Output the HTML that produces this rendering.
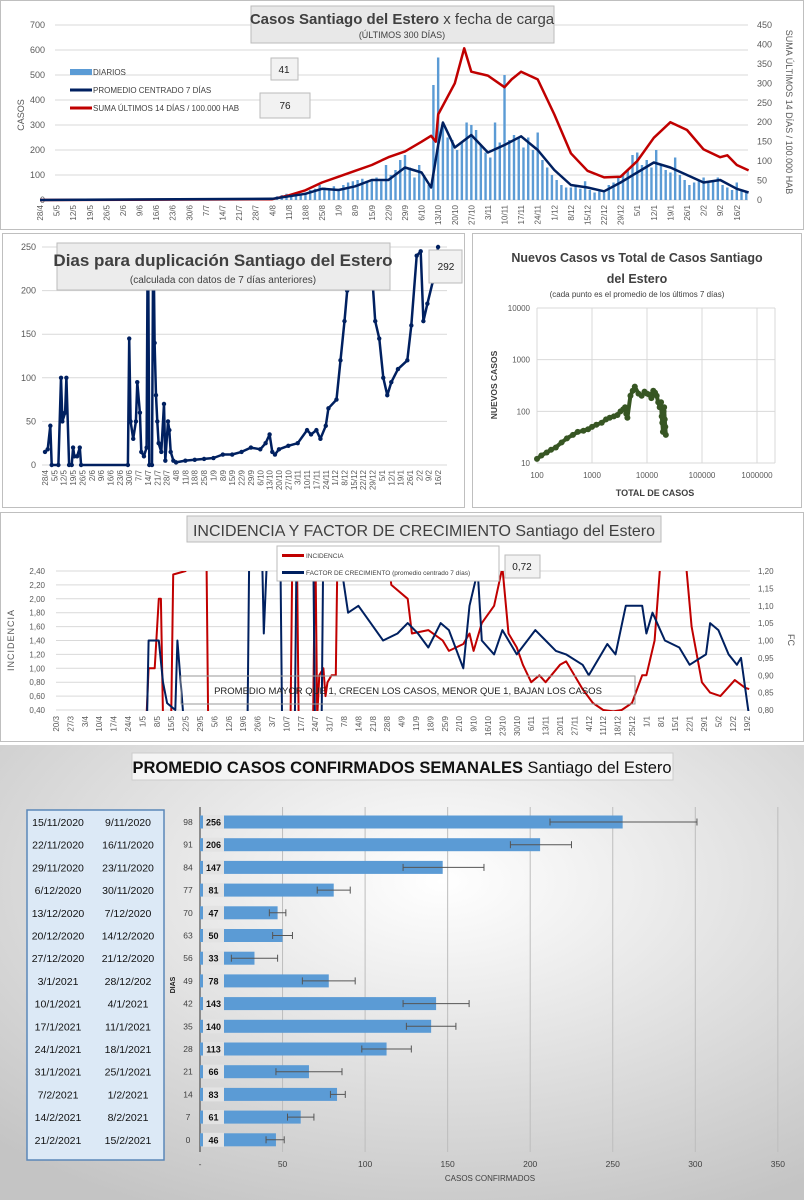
<!DOCTYPE html>
<html><head><meta charset="utf-8">
<style>
html,body{margin:0;padding:0;background:#fff;}
svg{display:block;font-family:"Liberation Sans",sans-serif;}
</style></head>
<body>
<svg id="root" width="804" height="1200" viewBox="0 0 804 1200" xmlns="http://www.w3.org/2000/svg">
<defs>
<radialGradient id="bg5" cx="0.55" cy="0.3" r="0.8"><stop offset="0" stop-color="#ffffff"/><stop offset="1" stop-color="#c4c4c4"/></radialGradient>
<clipPath id="c2"><rect x="40" y="244" width="425" height="230"/></clipPath>
<clipPath id="c4"><rect x="56" y="571" width="694" height="140"/></clipPath>
</defs>
<rect x="0.5" y="0.5" width="803" height="229" fill="#fff" stroke="#bfbfbf"/>
<rect x="2.5" y="233.5" width="462" height="274" fill="#fff" stroke="#bfbfbf"/>
<rect x="472.5" y="233.5" width="329" height="274" fill="#fff" stroke="#bfbfbf"/>
<rect x="0.5" y="512.5" width="803" height="229" fill="#fff" stroke="#bfbfbf"/>
<rect x="0" y="745" width="804" height="455" fill="url(#bg5)"/>
<g id="g1"></g><g id="g2"></g><g id="g3"></g><g id="g4"></g><g id="g5"></g>
</svg>
<script>
const NS='http://www.w3.org/2000/svg';
// ---------- Panel 1 data ----------
const p1Ticks=['28/4','5/5','12/5','19/5','26/5','2/6','9/6','16/6','23/6','30/6','7/7','14/7','21/7','28/7','4/8','11/8','18/8','25/8','1/9','8/9','15/9','22/9','29/9','6/10','13/10','20/10','27/10','3/11','10/11','17/11','24/11','1/12','8/12','15/12','22/12','29/12','5/1','12/1','19/1','26/1','2/2','9/2','16/2'];
const dailyStartDay=98;
const dailyCases=[10,15,20,25,20,30,25, 30,40,45,60,50,40,55, 45,60,70,75,80,85,70, 80,90,75,140,100,120,160, 180,130,90,140,100,60,460, 570,300,250,240,200,230,310, 300,280,220,190,170,310,230, 500,240,260,250,210,250,200, 270,160,130,100,80,60,50, 50,60,45,75,40,30,35, 30,60,70,90,100,120,180, 190,140,160,130,200,140,120, 110,170,100,80,60,70,80, 90,70,80,90,60,50,40, 70,40,30];
const avgDays=[0,98,105,112,119,126,133,140,147,154,161,165,168,170,175,182,189,196,203,210,217,224,231,238,245,252,259,266,273,280,287,294,299];
const avgVals=[0,5,15,25,45,40,55,80,80,130,110,50,220,310,210,260,190,220,255,200,120,60,50,35,70,110,150,130,100,70,80,45,30];
const sumDays=[0,98,105,112,119,126,133,140,147,154,161,165,167,168,175,179,182,189,196,199,203,210,217,224,231,238,245,252,259,266,273,280,287,290,294,299];
const sumVals=[0,2,12,25,45,60,75,90,110,125,150,165,150,220,300,390,330,320,290,310,330,310,220,120,75,58,60,100,160,200,180,130,110,115,90,76];
const p1LeftTicks=[0,100,200,300,400,500,600,700];
const p1RightTicks=[0,50,100,150,200,250,300,350,400,450];
// ---------- Panel 2 data ----------
const dblDays=[0,2,4,5,10,12,13,15,16,18,20,21,22,24,26,27,62,63,64,66,68,69,71,72,74,76,77,78,80,81,82,83,84,85,87,89,90,92,93,94,96,98,105,112,119,126,133,140,147,154,161,165,168,170,172,175,182,189,196,199,203,206,210,212,218,221,224,226,229,244,245,247,250,253,256,259,264,271,274,278,281,283,286,290,294];
const dblVals=[15,18,45,0,0,100,50,60,100,0,0,20,10,10,20,0,0,145,50,30,50,95,60,15,10,20,300,0,0,280,140,80,50,25,15,70,5,50,40,15,5,3,5,6,7,8,12,12,15,20,18,25,35,15,12,18,22,25,40,35,40,30,45,65,75,120,165,200,300,300,210,165,145,100,80,95,110,120,160,240,245,165,185,210,250];
const p2Ticks=[0,50,100,150,200,250];
// ---------- Panel 3 data ----------
const scTotal=[100,120,150,180,220,280,350,450,550,700,850,1000,1200,1500,1800,2100,2500,2900,3300,3700,4000,4200,4400,5000,5500,6000,7000,8000,9000,10000,11000,12000,13000,14000,15000,16000,17000,18000,18500,19000,19500,20000,20500,21000,21500,22000];
const scNew=[12,14,16,18,20,25,30,35,40,42,45,50,55,60,70,75,80,85,100,110,120,90,75,200,250,300,220,200,240,220,210,180,250,230,200,150,120,150,80,60,40,100,120,70,50,35];
const p3XTicks=['100','1000','10000','100000','1000000'];
const p3YTicks=['10','100','1000','10000'];
// ---------- Panel 4 data ----------
const p4Ticks=['20/3','27/3','3/4','10/4','17/4','24/4','1/5','8/5','15/5','22/5','29/5','5/6','12/6','19/6','26/6','3/7','10/7','17/7','24/7','31/7','7/8','14/8','21/8','28/8','4/9','11/9','18/9','25/9','2/10','9/10','16/10','23/10','30/10','6/11','13/11','20/11','27/11','4/12','11/12','18/12','25/12','1/1','8/1','15/1','22/1','29/1','5/2','12/2','19/2'];
const incDays=[40,44,45,48,50,51,52,56,57,63,65,73,74,114,115,117,118,125,126,127,128,130,131,132,134,136,137,160,163,171,173,181,188,191,198,201,203,207,213,217,220,224,227,231,235,238,245,248,251,256,261,266,271,275,280,285,287,291,294,306,309,314,318,323,330,335,337];
const incVals=[0.2,0.3,1.0,1.0,2.0,2.0,0.3,0.3,2.35,2.4,3,3,0.2,0.2,3,3,0.2,0.2,3,0.3,0.9,1.0,0.6,0.8,0.9,0.9,3,3,2.2,2.0,1.5,1.55,1.4,1.25,1.35,1.5,1.25,1.65,1.9,2.45,1.5,1.3,1.05,0.8,0.9,0.8,1.05,1.1,0.95,0.7,0.5,0.4,0.38,0.4,0.5,0.9,0.9,1.4,2.6,2.6,1.6,0.8,0.65,0.6,0.83,0.72,0.7];
const fcDays=[40,44,45,50,52,54,58,59,61,63,93,94,100,101,103,109,110,116,117,125,126,129,130,137,139,142,147,153,159,166,171,176,181,187,191,198,201,205,207,213,217,224,233,238,243,248,256,259,268,272,277,285,287,290,296,303,308,316,318,322,327,331,333,337];
const fcVals=[0.7,0.7,1.0,1.0,0.88,0.82,0.8,1.0,0.85,0.7,0.7,1.3,1.3,1.02,1.3,1.3,0.7,0.7,1.3,1.3,0.7,0.7,1.3,1.3,1.2,1.08,1.1,1.05,1.0,1.02,1.05,1.02,0.98,1.05,1.03,0.92,1.1,1.2,1.0,0.96,1.03,0.96,1.03,1.0,0.97,0.96,0.93,0.9,0.99,0.96,1.1,1.1,1.02,1.08,1.0,0.98,0.93,0.96,1.05,1.03,0.96,0.93,0.95,0.78];
const p4LeftTicks=['0,40','0,60','0,80','1,00','1,20','1,40','1,60','1,80','2,00','2,20','2,40'];
const p4RightTicks=['0,80','0,85','0,90','0,95','1,00','1,05','1,10','1,15','1,20'];
// ---------- Panel 5 data ----------
const wkEnd=['15/11/2020','22/11/2020','29/11/2020','6/12/2020','13/12/2020','20/12/2020','27/12/2020','3/1/2021','10/1/2021','17/1/2021','24/1/2021','31/1/2021','7/2/2021','14/2/2021','21/2/2021'];
const wkStart=['9/11/2020','16/11/2020','23/11/2020','30/11/2020','7/12/2020','14/12/2020','21/12/2020','28/12/202','4/1/2021','11/1/2021','18/1/2021','25/1/2021','1/2/2021','8/2/2021','15/2/2021'];
const wkDays=[98,91,84,77,70,63,56,49,42,35,28,21,14,7,0];
const wkAvg=[256,206,147,81,47,50,33,78,143,140,113,66,83,61,46];
const wkLow=[212,188,123,71,42,44,19,62,123,125,98,46,79,53,40];
const wkHigh=[301,225,172,91,52,56,47,94,163,155,128,86,88,69,51];
const p5Ticks=['-','50','100','150','200','250','300','350'];

function mk(p,tag,a){const e=document.createElementNS(NS,tag);for(const k in a)e.setAttribute(k,a[k]);p.appendChild(e);return e;}
function tx(p,x,y,s,a){const e=mk(p,'text',Object.assign({x:x,y:y},a||{}));e.textContent=s;return e;}
function pts(days,vals,X,Y){return days.map((d,i)=>X(d).toFixed(1)+','+Y(vals[i]).toFixed(1)).join(' ');}

// ================= Panel 1 =================
(function(){
const g=document.getElementById('g1');
const X=d=>40+d*2.37, YL=v=>200-v*0.25, YR=v=>200-v*175/450;
p1LeftTicks.forEach(v=>{
  const l=mk(g,'line',{x1:55,x2:748,y1:YL(v),y2:YL(v),stroke:'#d9d9d9','stroke-width':1});
  
  
  const t=tx(g,45,YL(v)+3,String(v),{'font-size':9,fill:'#595959','text-anchor':'end'});
  
  
});
p1RightTicks.forEach(v=>{
  const t=tx(g,757,YR(v)+3,String(v),{'font-size':9,fill:'#595959'});
  
  
});
p1Ticks.forEach((s,i)=>{
  const x=X(i*7);
  const t=tx(g,x+3,205,s,{'font-size':8,fill:'#595959','text-anchor':'end',transform:'rotate(-90 '+(x+3)+' 205)'});
  
  
});
dailyCases.forEach((v,i)=>{
  const d=dailyStartDay+i*2;
  const b=mk(g,'rect',{x:X(d)-1.2,y:YL(v),width:2.4,height:200-YL(v),fill:'#5b9bd5'});
  
  
});
const r=mk(g,'polyline',{points:pts(sumDays,sumVals,X,YR),fill:'none',stroke:'#c00000','stroke-width':2.5,'stroke-linejoin':'round'});


const n=mk(g,'polyline',{points:pts(avgDays,avgVals,X,YL),fill:'none',stroke:'#002060','stroke-width':2.5,'stroke-linejoin':'round'});


const tb=mk(g,'rect',{x:251,y:6,width:303,height:37,fill:'#e8e8e8',stroke:'#bbb'});


const tt=mk(g,'text',{x:402,y:24,'font-size':15,fill:'#404040','text-anchor':'middle'});
tt.innerHTML='<tspan font-weight="bold">Casos Santiago del Estero</tspan> x fecha de carga';


const st=tx(g,402,38,'(ÚLTIMOS 300 DÍAS)',{'font-size':9,fill:'#404040','text-anchor':'middle'});


const yl=tx(g,24,115,'CASOS',{'font-size':9,fill:'#595959','text-anchor':'middle',transform:'rotate(-90 24 115)'});


const yr=tx(g,786,112,'SUMA  ÚLTIMOS 14 DÍAS / 100.000 HAB',{'font-size':9,fill:'#595959','text-anchor':'middle',transform:'rotate(90 786 112)'});


const legs=[['DIARIOS','#5b9bd5',6,72],['PROMEDIO CENTRADO 7 DÍAS','#002060',3,90],['SUMA ÚLTIMOS 14 DÍAS / 100.000 HAB','#c00000',3,108]];
legs.forEach(L=>{
  const s=mk(g,'rect',{x:70,y:L[3]-L[2]/2,width:22,height:L[2],fill:L[1]});
  
  
  const t=tx(g,93,L[3]+3,L[0],{'font-size':8,fill:'#404040'});
  
  
});
const b1=mk(g,'rect',{x:271,y:58,width:27,height:22,fill:'#f2f2f2',stroke:'#bbb'});


const v1=tx(g,284,73,'41',{'font-size':10,fill:'#222','text-anchor':'middle'});


const b2=mk(g,'rect',{x:260,y:93,width:50,height:25,fill:'#f2f2f2',stroke:'#bbb'});


const v2=tx(g,285,109,'76',{'font-size':10,fill:'#222','text-anchor':'middle'});


})();

// ================= Panel 2 =================
(function(){
const g=document.getElementById('g2');
const X=d=>45+d*1.337, Y=v=>465-v*0.872;
p2Ticks.forEach(v=>{
  const l=mk(g,'line',{x1:42,x2:447,y1:Y(v),y2:Y(v),stroke:'#d9d9d9'});
  
  
  const t=tx(g,36,Y(v)+3,String(v),{'font-size':9,fill:'#595959','text-anchor':'end'});
  
  
});
p1Ticks.forEach((s,i)=>{
  const x=X(i*7);
  const t=tx(g,x+3,470,s,{'font-size':8,fill:'#595959','text-anchor':'end',transform:'rotate(-90 '+(x+3)+' 470)'});
  
  
});
const cg=mk(g,'g',{'clip-path':'url(#c2)'});
const ln=mk(cg,'polyline',{points:pts(dblDays,dblVals,X,Y),fill:'none',stroke:'#002060','stroke-width':2.5,'stroke-linejoin':'round'});


dblDays.forEach((d,i)=>{
  const c=mk(cg,'circle',{cx:X(d),cy:Y(dblVals[i]),r:2.2,fill:'#002060'});
  
  
});
const tb=mk(g,'rect',{x:57,y:243,width:333,height:47,fill:'#ececec',stroke:'#bbb'});


const t1=tx(g,223,266,'Dias para duplicación Santiago del Estero',{'font-size':17,'font-weight':'bold',fill:'#404040','text-anchor':'middle'});


const t2=tx(g,223,283,'(calculada con datos de 7 días anteriores)',{'font-size':10,fill:'#404040','text-anchor':'middle'});


const vb=mk(g,'rect',{x:429,y:250,width:33,height:33,fill:'#f2f2f2',stroke:'#bbb'});


const vt=tx(g,446,270,'292',{'font-size':10,fill:'#222','text-anchor':'middle'});


})();

// ================= Panel 3 =================
(function(){
const g=document.getElementById('g3');
const X=v=>537+(Math.log10(v)-2)*55, Y=v=>463-(Math.log10(v)-1)*51.67;
p3XTicks.forEach((s,i)=>{
  const x=537+i*55;
  const l=mk(g,'line',{x1:x,x2:x,y1:308,y2:463,stroke:'#d9d9d9'});
  
  
  const t=tx(g,x,478,s,{'font-size':8,fill:'#595959','text-anchor':'middle'});
  
  
});
const re=mk(g,'line',{x1:775,x2:775,y1:308,y2:463,stroke:'#d9d9d9'});


p3YTicks.forEach((s,i)=>{
  const y=463-i*51.67;
  const l=mk(g,'line',{x1:537,x2:775,y1:y,y2:y,stroke:'#d9d9d9'});
  
  
  const t=tx(g,530,y+3,s,{'font-size':8,fill:'#595959','text-anchor':'end'});
  
  
});
const pl=mk(g,'polyline',{points:scTotal.map((v,i)=>X(v).toFixed(1)+','+Y(scNew[i]).toFixed(1)).join(' '),fill:'none',stroke:'#375623','stroke-width':4,'stroke-linejoin':'round'});


scTotal.forEach((v,i)=>{
  const c=mk(g,'circle',{cx:X(v),cy:Y(scNew[i]),r:3,fill:'#375623'});
  
  
});
const a=tx(g,637,262,'Nuevos Casos vs Total de Casos Santiago',{'font-size':12.5,'font-weight':'bold',fill:'#404040','text-anchor':'middle'});


const b=tx(g,637,283,'del Estero',{'font-size':12.5,'font-weight':'bold',fill:'#404040','text-anchor':'middle'});


const c=tx(g,637,297,'(cada punto es el promedio de los últimos 7 días)',{'font-size':8,fill:'#404040','text-anchor':'middle'});


const xt=tx(g,655,496,'TOTAL DE CASOS',{'font-size':9,'font-weight':'bold',fill:'#404040','text-anchor':'middle'});


const yt=tx(g,497,385,'NUEVOS  CASOS',{'font-size':8.5,'font-weight':'bold',fill:'#404040','text-anchor':'middle',transform:'rotate(-90 497 385)'});


})();

// ================= Panel 4 =================
(function(){
const g=document.getElementById('g4');
const X=d=>56+d*2.057, YL=v=>710-(v-0.4)*69.5, YR=v=>710-(v-0.8)*347.5;
p4LeftTicks.forEach((s,i)=>{
  const y=710-i*13.9;
  const l=mk(g,'line',{x1:56,x2:750,y1:y,y2:y,stroke:'#d9d9d9'});
  
  
  const t=tx(g,45,y+3,s,{'font-size':8,fill:'#595959','text-anchor':'end'});
  
  
});
p4RightTicks.forEach((s,i)=>{
  const y=710-i*17.375;
  const t=tx(g,758,y+3,s,{'font-size':8,fill:'#595959'});
  
  
});
p4Ticks.forEach((s,i)=>{
  const x=X(i*7);
  const t=tx(g,x+3,716,s,{'font-size':8,fill:'#595959','text-anchor':'end',transform:'rotate(-90 '+(x+3)+' 716)'});
  
  
});
const cg=mk(g,'g',{'clip-path':'url(#c4)'});
const r=mk(cg,'polyline',{points:pts(incDays,incVals,X,YL),fill:'none',stroke:'#c00000','stroke-width':2,'stroke-linejoin':'round'});


const n=mk(cg,'polyline',{points:pts(fcDays,fcVals,X,YR),fill:'none',stroke:'#002060','stroke-width':2,'stroke-linejoin':'round'});


const tb=mk(g,'rect',{x:187,y:516,width:474,height:26,fill:'#e8e8e8',stroke:'#bbb'});


const tt=tx(g,424,536,'INCIDENCIA Y FACTOR DE CRECIMIENTO Santiago del Estero',{'font-size':16,fill:'#404040','text-anchor':'middle'});


const lb=mk(g,'rect',{x:277,y:546,width:222,height:35,fill:'#fff',stroke:'#bbb'});


const s1=mk(g,'rect',{x:282,y:554,width:22,height:3,fill:'#c00000'});


const l1=tx(g,306,558,'INCIDENCIA',{'font-size':6.5,fill:'#404040'});


const s2=mk(g,'rect',{x:282,y:571,width:22,height:3,fill:'#002060'});


const l2=tx(g,306,575,'FACTOR DE CRECIMIENTO (promedio centrado 7 días)',{'font-size':6.5,fill:'#404040'});


const vb=mk(g,'rect',{x:505,y:555,width:35,height:23,fill:'#f2f2f2',stroke:'#bbb'});


const vt=tx(g,522,570,'0,72',{'font-size':10,fill:'#222','text-anchor':'middle'});


const ab=mk(g,'rect',{x:181,y:676,width:454,height:28,fill:'none',stroke:'#999'});


const at=tx(g,408,694,'PROMEDIO MAYOR QUE 1, CRECEN LOS CASOS, MENOR QUE 1, BAJAN LOS CASOS',{'font-size':9.5,fill:'#222','text-anchor':'middle'});


const yl=tx(g,14,640,'INCIDENCIA',{'font-size':9,fill:'#595959','text-anchor':'middle','letter-spacing':1,transform:'rotate(-90 14 640)'});


const yr=tx(g,788,640,'FC',{'font-size':9,fill:'#595959','text-anchor':'middle',transform:'rotate(90 788 640)'});


})();

// ================= Panel 5 =================
(function(){
const g=document.getElementById('g5');
const X=v=>200+v*1.651, Yc=i=>822+i*22.7;
const tb=mk(g,'rect',{x:132,y:753,width:541,height:27,fill:'#f4f4f4',stroke:'#ccc'});


const tt=mk(g,'text',{x:402,y:773,'font-size':16.5,fill:'#111','text-anchor':'middle','font-weight':'bold'});
tt.innerHTML='PROMEDIO CASOS CONFIRMADOS SEMANALES <tspan font-weight="normal">Santiago del Estero</tspan>';


p5Ticks.forEach((s,i)=>{
  const x=X(i*50);
  if(i>0){
    const l=mk(g,'line',{x1:x,x2:x,y1:807,y2:1152,stroke:'#bdbdbd'});
    
    
  }
  const t=tx(g,x,1167,s,{'font-size':8.5,fill:'#404040','text-anchor':'middle'});
  
  
});
const ax=mk(g,'line',{x1:200,x2:200,y1:807,y2:1152,stroke:'#333','stroke-width':1});


const xt=tx(g,490,1181,'CASOS CONFIRMADOS',{'font-size':8,fill:'#404040','text-anchor':'middle'});


const yt=tx(g,175,985,'DIAS',{'font-size':7,'font-weight':'bold',fill:'#222','text-anchor':'middle',transform:'rotate(-90 175 985)'});


const lb=mk(g,'rect',{x:27,y:810,width:137,height:350,fill:'#dce9f6',stroke:'#5b87b8','stroke-width':1.5});


wkAvg.forEach((v,i)=>{
  const y=Yc(i);
  const b=mk(g,'rect',{x:200,y:y-6.5,width:X(v)-200,height:13,fill:'#5b9bd5'});
  
  
  const e=mk(g,'line',{x1:X(wkLow[i]),x2:X(wkHigh[i]),y1:y,y2:y,stroke:'#555','stroke-width':1});
  
  
  [wkLow[i],wkHigh[i]].forEach(w=>{
    const c=mk(g,'line',{x1:X(w),x2:X(w),y1:y-3.5,y2:y+3.5,stroke:'#555','stroke-width':1});
    
    
  });
  const vb=mk(g,'rect',{x:203,y:y-7,width:21,height:14,fill:'#e3e3e3'});
  
  
  const vt=tx(g,213.5,y+3.5,String(v),{'font-size':9,'font-weight':'bold',fill:'#111','text-anchor':'middle'});
  
  
  const dt=tx(g,188,y+3,String(wkDays[i]),{'font-size':8.5,fill:'#404040','text-anchor':'middle'});
  
  
  const e1=tx(g,58,y+4,wkEnd[i],{'font-size':10.5,fill:'#111','text-anchor':'middle'});
  
  
  const s1=tx(g,128,y+4,wkStart[i],{'font-size':10.5,fill:'#111','text-anchor':'middle'});
  
  
});
})();
</script>
</body></html>
